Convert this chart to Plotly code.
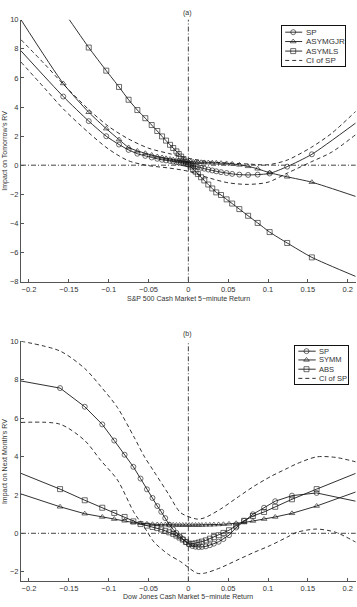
import plotly.graph_objects as go

W, H = 357, 607

# ---------------- Panel (a) data ----------------
XA = [-0.21, -0.157, -0.125, -0.103, -0.087, -0.075, -0.064, -0.054, -0.046, -0.039, -0.033,
      -0.028, -0.023, -0.019, -0.015, -0.012, -0.009, -0.006, -0.003, 0.0, 0.003, 0.006,
      0.009, 0.012, 0.016, 0.020, 0.025, 0.030, 0.035, 0.041, 0.048, 0.055, 0.064, 0.075,
      0.087, 0.102, 0.124, 0.155, 0.21]
SP_A = [7.86, 4.72, 3.03, 1.99, 1.42, 1.05, 0.79, 0.64, 0.53, 0.44, 0.37,
        0.33, 0.29, 0.25, 0.21, 0.18, 0.15, 0.12, 0.08, 0.04, 0.0, -0.04,
        -0.08, -0.12, -0.18, -0.24, -0.30, -0.36, -0.42, -0.48, -0.54, -0.60, -0.65, -0.67,
        -0.65, -0.57, -0.10, 0.75, 2.90]
ASYMGJR_A = [10.0, 5.62, 3.64, 2.51, 1.76, 1.22, 0.98, 0.82, 0.70, 0.60, 0.53,
             0.47, 0.42, 0.38, 0.35, 0.32, 0.30, 0.28, 0.26, 0.25, 0.24, 0.23,
             0.22, 0.21, 0.20, 0.19, 0.18, 0.17, 0.16, 0.14, 0.12, 0.09, 0.02, -0.08,
             -0.25, -0.52, -0.80, -1.17, -2.15]
ASYMLS_A = [14.6, 10.6, 8.09, 6.50, 5.38, 4.50, 3.79, 3.23, 2.76, 2.35, 1.98,
            1.69, 1.40, 1.18, 0.95, 0.77, 0.59, 0.42, 0.25, 0.08, -0.09, -0.27,
            -0.44, -0.61, -0.83, -1.05, -1.33, -1.60, -1.87, -2.05, -2.35, -2.64, -3.02, -3.48,
            -3.97, -4.60, -5.35, -6.34, -7.65]
XA_CI = [-0.21, -0.18, -0.157, -0.125, -0.1, -0.075, -0.05, -0.025, 0.0, 0.025, 0.05,
         0.075, 0.1, 0.124, 0.155, 0.18, 0.21]
CI_UP_A = [8.63, 6.93, 5.57, 3.83, 2.66, 1.80, 1.17, 0.81, 0.48, 0.24, 0.15,
           0.08, 0.03, 0.35, 1.25, 2.20, 3.70]
CI_LO_A = [7.09, 5.27, 3.87, 2.23, 1.10, 0.30, -0.03, -0.19, -0.42, -0.86, -1.21,
           -1.32, -1.17, -0.55, 0.25, 0.90, 2.10]

# ---------------- Panel (b) data ----------------
XB = [-0.21, -0.161, -0.130, -0.108, -0.093, -0.080, -0.069, -0.060, -0.052, -0.045, -0.039,
      -0.034, -0.029, -0.024, -0.019, -0.015, -0.011, -0.007, -0.003, 0.001, 0.005, 0.009,
      0.013, 0.017, 0.022, 0.027, 0.032, 0.038, 0.044, 0.051, 0.060, 0.070, 0.081, 0.095,
      0.109, 0.130, 0.161, 0.21]
SP_B = [7.93, 7.56, 6.59, 5.67, 4.83, 4.09, 3.46, 2.85, 2.29, 1.84, 1.42,
        1.12, 0.79, 0.45, 0.20, 0.02, -0.15, -0.30, -0.46, -0.58, -0.66, -0.70,
        -0.72, -0.71, -0.68, -0.62, -0.54, -0.44, -0.30, -0.10, 0.30, 0.65, 0.99, 1.33,
        1.67, 1.96, 2.10, 1.67]
SYMM_B = [2.05, 1.38, 1.02, 0.85, 0.74, 0.65, 0.56, 0.52, 0.49, 0.47, 0.46,
          0.45, 0.45, 0.44, 0.44, 0.43, 0.43, 0.43, 0.43, 0.43, 0.43, 0.43,
          0.43, 0.43, 0.44, 0.44, 0.45, 0.46, 0.47, 0.49, 0.52, 0.56, 0.64, 0.74,
          0.85, 1.04, 1.42, 2.15]
ABS_B = [3.12, 2.30, 1.72, 1.33, 1.06, 0.85, 0.62, 0.48, 0.40, 0.33, 0.27,
         0.20, 0.13, 0.05, -0.03, -0.12, -0.22, -0.33, -0.45, -0.54, -0.55, -0.52,
         -0.48, -0.43, -0.37, -0.28, -0.20, -0.10, 0.02, 0.16, 0.40, 0.65, 0.90, 1.11,
         1.38, 1.77, 2.30, 3.12]
XB_CI = [-0.21, -0.161, -0.13, -0.11, -0.089, -0.068, -0.055, -0.043, -0.025, -0.0096, 0.011,
         0.02, 0.04, 0.061, 0.082, 0.103, 0.124, 0.136, 0.161, 0.185, 0.21]
CI_UP_B = [10.0, 9.49, 8.58, 7.65, 6.55, 5.00, 3.98, 3.21, 2.05, 1.07, 0.74,
           0.80, 1.25, 1.85, 2.44, 2.95, 3.38, 3.62, 3.98, 3.95, 3.72]
CI_LO_B = [5.77, 5.68, 4.83, 3.80, 2.78, 1.07, 0.30, -0.46, -1.10, -1.48, -2.08,
           -2.08, -1.80, -1.40, -1.00, -0.63, -0.20, 0.05, 0.22, 0.05, -0.46]

XTICKS = [-0.2, -0.15, -0.1, -0.05, 0, 0.05, 0.1, 0.15, 0.2]
XTICKTEXT = ["\u22120.2", "\u22120.15", "\u22120.1", "\u22120.05", "0", "0.05", "0.1", "0.15", "0.2"]
YTICKS_A = [-8, -6, -4, -2, 0, 2, 4, 6, 8, 10]
YTICKS_B = [-2, 0, 2, 4, 6, 8, 10]

LEG_A = ["SP", "ASYMGJR", "ASYMLS", "CI of SP"]
LEG_B = ["SP", "SYMM", "ABS", "CI of SP"]

INK = "#1a1a1a"
TXT = "#333333"
FONT = "Liberation Sans, Arial, sans-serif"

fig = go.Figure()


def msizes(n, s=5):
    return [0] + [s] * (n - 2) + [0]


def series(x, y, sym, xa, ya, shape):
    fig.add_trace(go.Scatter(
        x=x, y=y, mode="lines+markers", xaxis=xa, yaxis=ya, showlegend=False,
        line=dict(color=INK, width=0.9, shape=shape, smoothing=0.6),
        marker=dict(symbol=sym, size=msizes(len(x)), color=INK,
                    line=dict(color=INK, width=0.9)),
        cliponaxis=True))


def ci(x, y, xa, ya):
    fig.add_trace(go.Scatter(
        x=x, y=y, mode="lines", xaxis=xa, yaxis=ya, showlegend=False,
        line=dict(color=INK, width=0.9, dash="4px,3px", shape="spline", smoothing=0.8)))


# panel a
ci(XA_CI, CI_UP_A, "x", "y")
ci(XA_CI, CI_LO_A, "x", "y")
series(XA, SP_A, "circle-open", "x", "y", "spline")
series(XA, ASYMGJR_A, "triangle-up-open", "x", "y", "spline")
series(XA, ASYMLS_A, "square-open", "x", "y", "spline")

# panel b
ci(XB_CI, CI_UP_B, "x2", "y2")
ci(XB_CI, CI_LO_B, "x2", "y2")
series(XB, SP_B, "circle-open", "x2", "y2", "linear")
series(XB, SYMM_B, "triangle-up-open", "x2", "y2", "linear")
series(XB, ABS_B, "square-open", "x2", "y2", "linear")


# ---------------- custom legends (small boxed axes) ----------------
def px_dom_x(a, b):
    return [a / W, b / W]


def px_dom_y(top, bot):
    return [1 - bot / H, 1 - top / H]


legend_specs = [
    ("x3", "y3", 281.7, 345.0, 22.3, 63.3, [6.3, 15.8, 25.5, 35.0], 3.5, 20.5, 11.5, 21.8, LEG_A, 8),
    ("x4", "y4", 295.3, 348.3, 346.7, 386.0, [5.7, 14.6, 24.0, 33.3], 3.0, 20.4, 11.2, 22.0, LEG_B, 7.5),
]
symbols = ["circle-open", "triangle-up-open", "square-open", None]
for xa, ya, l, r, t, b, rows, lx0, lx1, mx, tx, labels, fs in legend_specs:
    for i, (lab, sym) in enumerate(zip(labels, symbols)):
        if sym is None:
            fig.add_trace(go.Scatter(x=[lx0, lx1], y=[rows[i], rows[i]], mode="lines",
                                     xaxis=xa, yaxis=ya, showlegend=False, hoverinfo="skip",
                                     line=dict(color=INK, width=0.9, dash="4px,3px")))
        else:
            fig.add_trace(go.Scatter(x=[lx0, mx, lx1], y=[rows[i]] * 3, mode="lines+markers",
                                     xaxis=xa, yaxis=ya, showlegend=False, hoverinfo="skip",
                                     line=dict(color=INK, width=0.9),
                                     marker=dict(symbol=sym, size=[0, 5, 0], color=INK,
                                                 line=dict(color=INK, width=0.9))))
        fig.add_annotation(x=tx, y=rows[i], xref=xa, yref=ya, text=lab, showarrow=False,
                           xanchor="left", yanchor="middle",
                           font=dict(family=FONT, size=fs, color=TXT))

# ---------------- layout ----------------
XDOM = px_dom_x(21.0, 355.7)
YDOM_A = px_dom_y(16.0, 281.7)
YDOM_B = px_dom_y(342.3, 586.0)

axis_common = dict(showgrid=False, zeroline=False, showline=True, linecolor="#555555",
                   linewidth=1, ticks="inside", ticklen=3, tickcolor="#555555",
                   tickfont=dict(family=FONT, size=7.5, color=TXT), mirror=False)

fig.update_layout(
    width=W, height=H,
    margin=dict(l=0, r=0, t=0, b=0),
    paper_bgcolor="white", plot_bgcolor="white",
    showlegend=False,
    xaxis=dict(domain=XDOM, range=[-0.21, 0.21], tickvals=XTICKS, ticktext=XTICKTEXT,
               anchor="y", **axis_common),
    yaxis=dict(domain=YDOM_A, range=[-8, 10], tickvals=YTICKS_A,
               ticktext=[("\u2212" + str(-v)) if v < 0 else str(v) for v in YTICKS_A],
               anchor="x", **axis_common),
    xaxis2=dict(domain=XDOM, range=[-0.21, 0.21], tickvals=XTICKS, ticktext=XTICKTEXT,
                anchor="y2", **axis_common),
    yaxis2=dict(domain=YDOM_B, range=[-2.5, 10], tickvals=YTICKS_B,
                ticktext=[("\u2212" + str(-v)) if v < 0 else str(v) for v in YTICKS_B],
                anchor="x2", **axis_common),
)

for (xa, ya, l, r, t, b, *_rest) in legend_specs:
    xk = "xaxis" + xa[1:]
    yk = "yaxis" + ya[1:]
    fig.layout[xk] = dict(domain=px_dom_x(l, r), range=[0, r - l], anchor=ya,
                          showgrid=False, zeroline=False, showticklabels=False, ticks="",
                          showline=True, mirror=True, linecolor="#111111", linewidth=1)
    fig.layout[yk] = dict(domain=px_dom_y(t, b), range=[b - t, 0], anchor=xa,
                          showgrid=False, zeroline=False, showticklabels=False, ticks="",
                          showline=True, mirror=True, linecolor="#111111", linewidth=1)

# reference lines at zero
for xr, yr in (("x", "y"), ("x2", "y2")):
    fig.add_shape(type="line", xref=xr, yref=yr + " domain", x0=0, x1=0, y0=0, y1=1,
                  line=dict(color="#444444", width=1, dash="5px,2px,1px,2px"), layer="below")
    fig.add_shape(type="line", xref=xr + " domain", yref=yr, x0=0, x1=1, y0=0, y1=0,
                  line=dict(color="#444444", width=1, dash="5px,2px,1px,2px"), layer="below")

# titles
def ann(text, x, y, angle=0, size=7):
    fig.add_annotation(text=text, x=x, y=y, xref="paper", yref="paper", showarrow=False,
                       xanchor="center", yanchor="middle", textangle=angle,
                       font=dict(family=FONT, size=size, color=TXT))

ann("(a)", 187.7 / W, 1 - 9.5 / H, size=7)
ann("(b)", 187.7 / W, 1 - 334.5 / H, size=7)
ann("S&amp;P 500 Cash Market 5\u2212minute Return", 188 / W, 1 - 298.5 / H)
ann("Dow Jones Cash Market 5\u2212minute Return", 188 / W, 1 - 601.5 / H)
ann("Impact on Tomorrow\u2019s RV", 5 / W, 1 - 149 / H, angle=-90)
ann("Impact on Next Month\u2019s RV", 5 / W, 1 - 465 / H, angle=-90)

fig.write_html("out.html")
